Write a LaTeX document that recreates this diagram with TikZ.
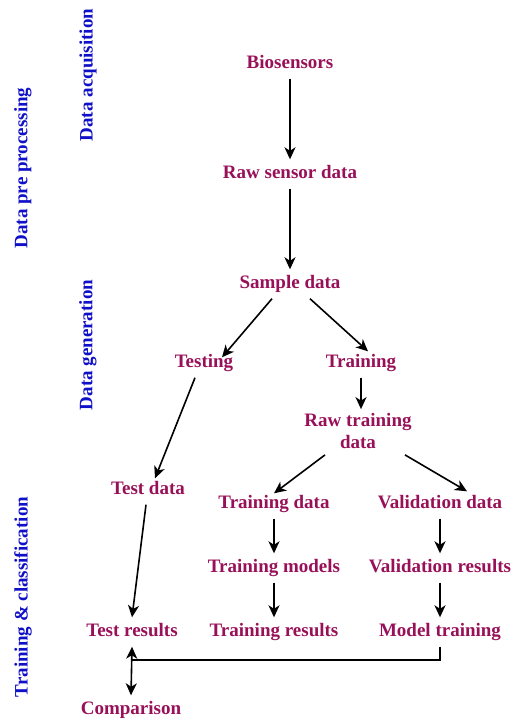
\documentclass[tikz,border=0pt]{standalone}
\usepackage{fontspec}
\setmainfont{Liberation Serif}
\usetikzlibrary{arrows.meta}
\definecolor{stagecol}{RGB}{152,16,88}
\definecolor{phasecol}{RGB}{16,16,200}
\tikzset{tip/.tip={Stealth[length=12pt,width=11pt,inset=3.5pt]}}
\begin{document}
\begin{tikzpicture}[x=1pt,y=-1pt,
  stage/.style={text=stagecol,font=\bfseries\fontsize{19}{22}\selectfont,
    text height=13pt,text depth=4pt,inner xsep=3pt,inner ysep=6pt},
  phase/.style={text=phasecol,font=\bfseries\fontsize{19}{22}\selectfont,rotate=90},
  flow/.style={line width=1.6pt,-tip},
  link/.style={line width=1.6pt}]
\useasboundingbox (0,0) rectangle (513,721);

% phase labels
\node[phase] (pacq) at (88,75) {Data acquisition};
\node[phase] (ppre) at (23,168) {Data pre processing};
\node[phase] (pgen) at (88,345) {Data generation};
\node[phase] (pcls) at (23,597) {Training \& classification};

% stages
\node[stage] (bio) at (290,64) {Biosensors};
\node[stage] (raw) at (290,174) {Raw sensor data};
\node[stage] (sd) at (290,284) {Sample data};
\node[stage] (tst) at (204,363) {Testing};
\node[stage] (trn) at (361,363) {Training};
\node[stage,align=center,text height=,text depth=,inner ysep=4pt] (rtd) at (358,431) {Raw training\\data};
\node[stage] (tdat) at (148,490) {Test data};
\node[stage] (trd) at (274,504) {Training data};
\node[stage] (vd) at (440,504) {Validation data};
\node[stage] (tm) at (274,568) {Training models};
\node[stage] (vr) at (440,568) {Validation results};
\node[stage] (tres) at (274,632) {Training results};
\node[stage] (mt) at (440,632) {Model training};
\node[stage] (tr) at (132,632) {Test results};
\node[stage] (cmp) at (131,710) {Comparison};

% flow
\draw[flow] (bio) -- (raw);
\draw[flow] (raw) -- (sd);
\draw[flow] ([xshift=-18pt]sd.south) -- ([xshift=18pt,yshift=-9pt]tst.north);
\draw[flow] ([xshift=20pt]sd.south) -- ([xshift=7pt,yshift=-3pt]trn.north);
\draw[flow] ([xshift=-9pt]tst.south) -- ([xshift=7pt,yshift=-3pt]tdat.north);
\draw[flow] (trn.south) -- (trn.south |- rtd.north);
\draw[flow] ([xshift=-33pt,yshift=-2pt]rtd.south) -- ([yshift=-4pt]trd.north);
\draw[flow] ([xshift=47pt,yshift=-2pt]rtd.south) -- ([xshift=27pt,yshift=-2pt]vd.north);
\draw[flow] (trd) -- (tm);
\draw[flow] (vd) -- (vr);
\draw[flow] (tm) -- (tres);
\draw[flow] (vr) -- (mt);
\draw[flow] ([xshift=-2pt]tdat.south) -- (tr.north);

% feedback to the comparison
\coordinate (j) at (132,660);
\draw[link] (mt.south) |- (j);
\draw[flow,tip-tip] (tr.south) -- (cmp.north);
\end{tikzpicture}
\end{document}
